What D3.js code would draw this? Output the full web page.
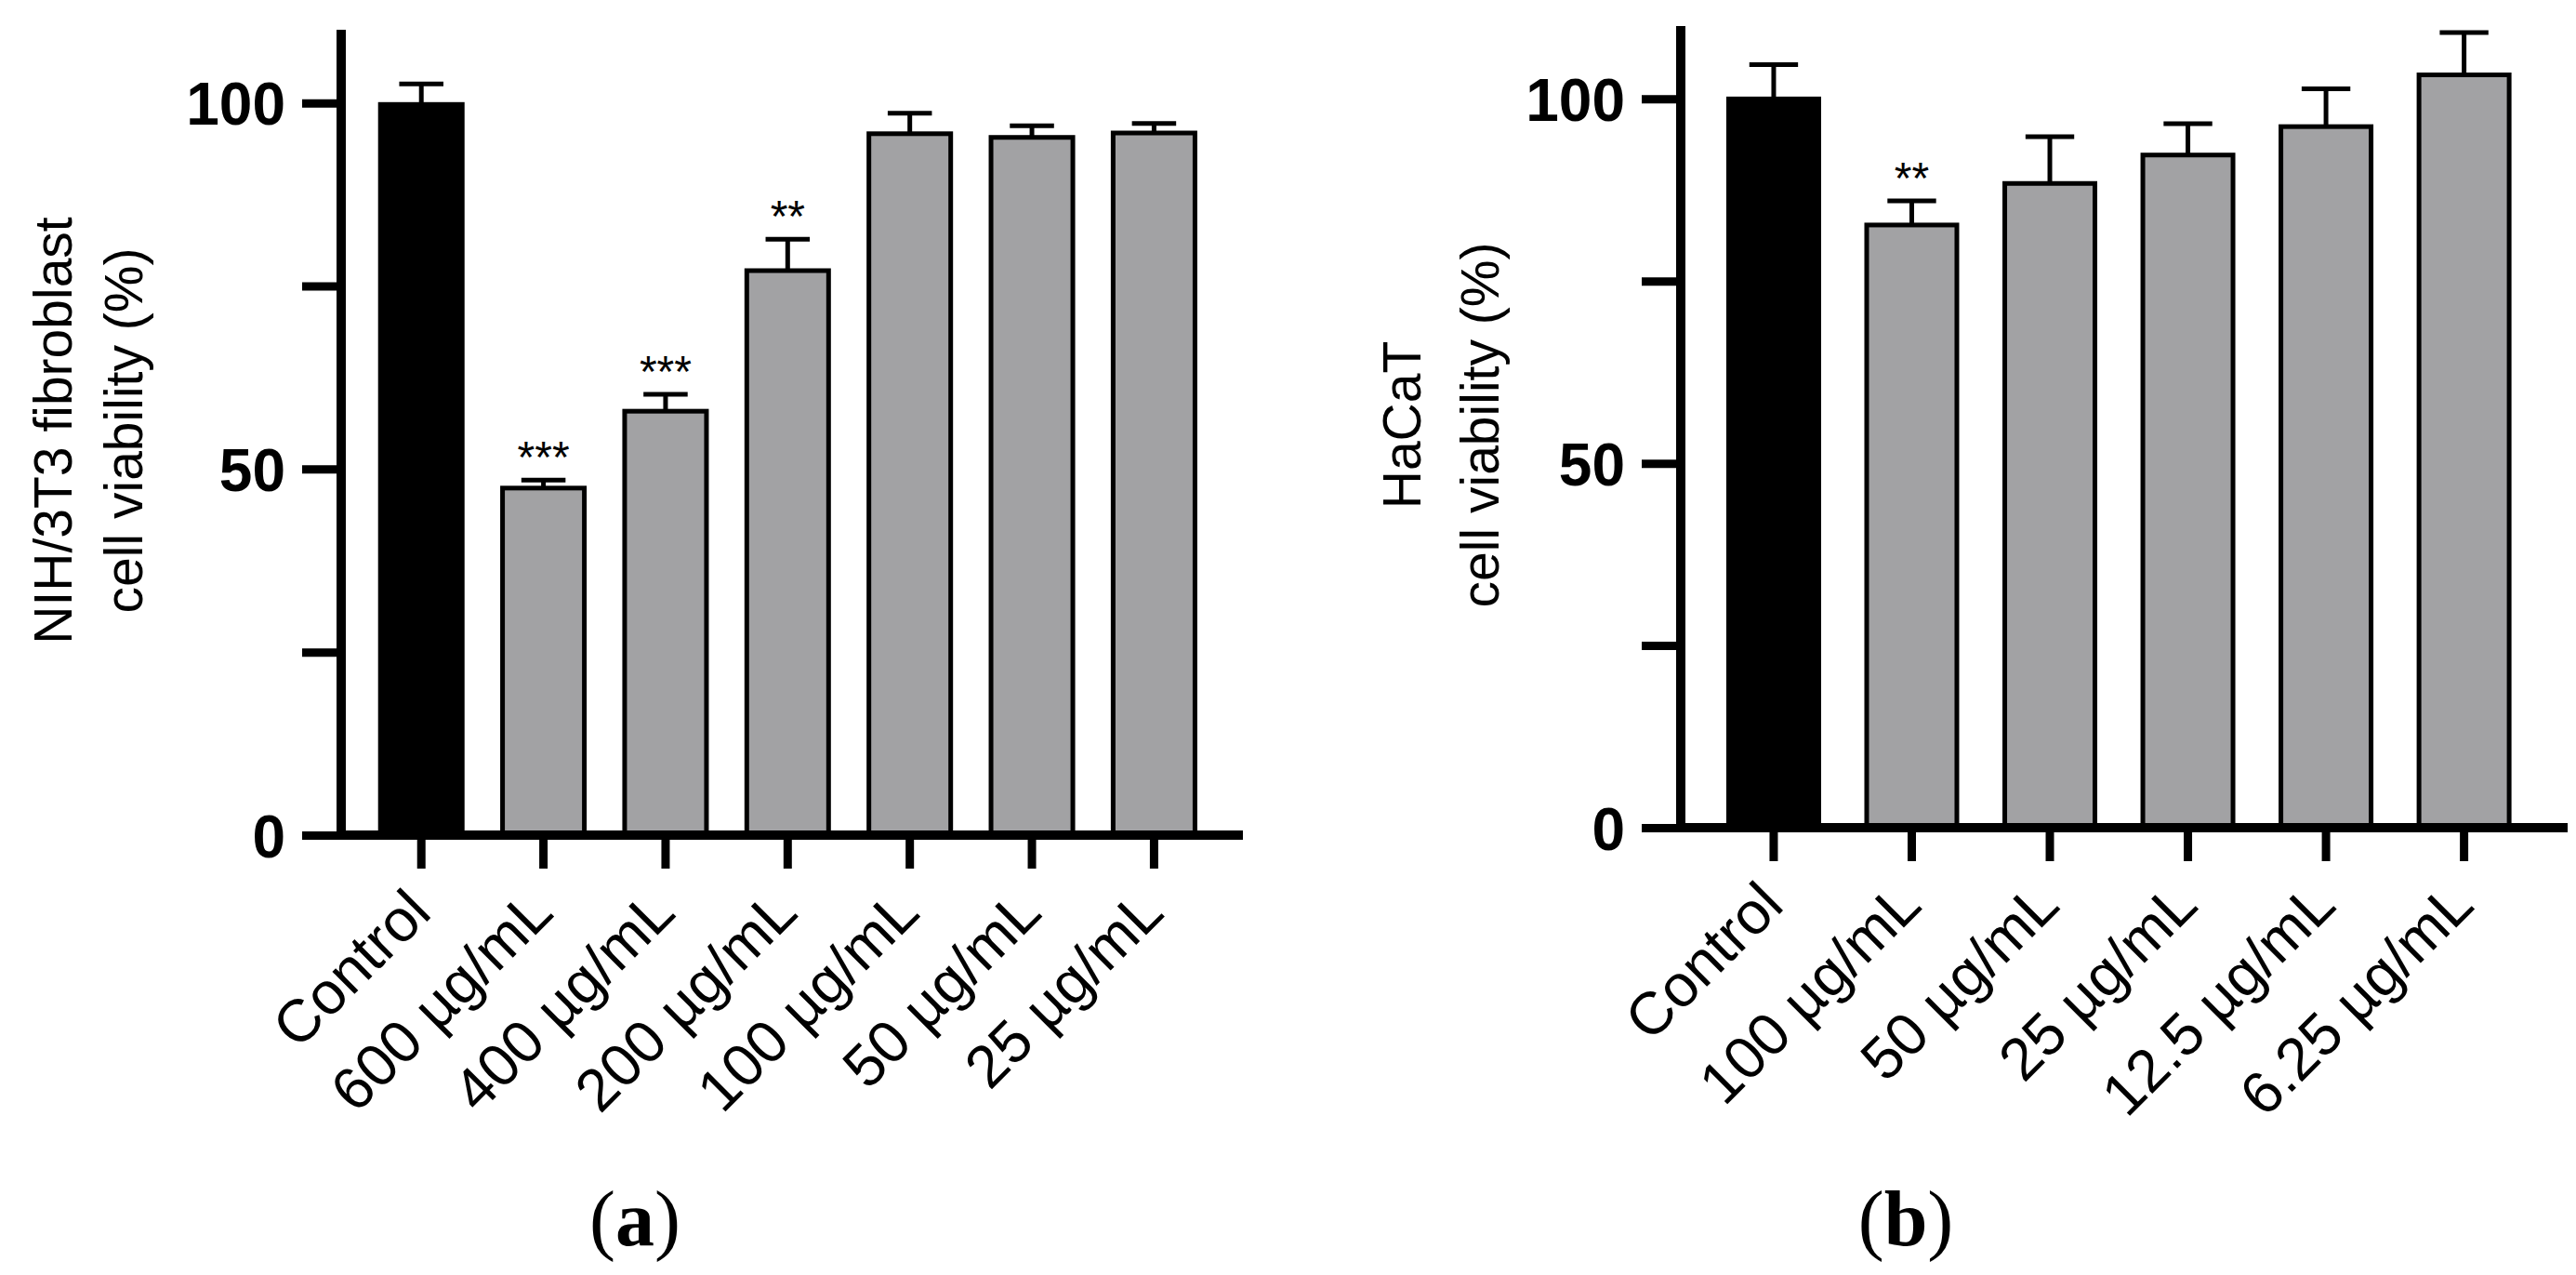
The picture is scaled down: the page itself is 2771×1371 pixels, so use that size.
<!DOCTYPE html>
<html>
<head>
<meta charset="utf-8">
<script src="https://d3js.org/d3.v7.min.js"></script>
<style>
	body { margin: 0; background: #fff; }
	svg { display: block; }
</style>
</head>
<body>
<div id="chart"></div>
<script>
// panel (a): NIH/3T3 fibroblasts
var catsA = ["Control", "600 µg/mL", "400 µg/mL", "200 µg/mL", "100 µg/mL", "50 µg/mL", "25 µg/mL"]
var meanA = [99.8, 47.4, 57.9, 77.1, 95.8, 95.3, 95.9]
var errA = [2.8, 1.1, 2.3, 4.3, 2.8, 1.6, 1.3]
var sigA = ["", "***", "***", "**", "", "", ""]

// panel (b): HaCaT
var catsB = ["Control", "100 µg/mL", "50 µg/mL", "25 µg/mL", "12.5 µg/mL", "6.25 µg/mL"]
var meanB = [100.0, 82.7, 88.4, 92.3, 96.2, 103.3]
var errB = [4.7, 3.3, 6.4, 4.3, 5.2, 5.8]
var sigB = ["", "**", "", "", "", ""]

var yTicks = [0, 25, 50, 75, 100]
var yLabels = [0, 50, 100]

var W = 2771, H = 1371
var svg = d3.select("#chart").append("svg")
	.attr("width", W)
	.attr("height", H)

svg.append("rect").attr("width", W).attr("height", H).attr("fill", "#fff")

function drawPanel(p){
	var g = svg.append("g")

	var y = d3.scaleLinear().domain([0, 110]).range([p.bottom, p.top])
	var x = d3.scaleBand()
		.domain(p.cats)
		.range([p.left, p.right])
		.paddingInner(p.padIn)
		.paddingOuter(p.padOut)
		.align(0.45)

	var rows = p.cats.map(function(c, i){
		return { cat: c, mean: p.mean[i], err: p.err[i], sig: p.sig[i], first: i == 0 }
	})

	// bars
	g.selectAll(".bar")
		.data(rows)
		.enter()
		.append("rect")
		.attr("class", "bar")
		.attr("x", function(d){ return x(d.cat) })
		.attr("y", function(d){ return y(d.mean) })
		.attr("width", x.bandwidth())
		.attr("height", function(d){ return y(0) - y(d.mean) })
		.style("fill", function(d){ return d.first ? "#000" : "#a2a2a4" })
		.style("stroke", "#000")
		.style("stroke-width", 5)

	// error bars, upper only
	var capW = x.bandwidth() * 0.54
	var eb = g.selectAll(".err")
		.data(rows)
		.enter()
		.append("g")
		.attr("class", "err")
		.style("stroke", "#000")
		.style("stroke-width", 5)
	eb.append("line")
		.attr("x1", function(d){ return x(d.cat) + x.bandwidth() / 2 })
		.attr("x2", function(d){ return x(d.cat) + x.bandwidth() / 2 })
		.attr("y1", function(d){ return y(d.mean) })
		.attr("y2", function(d){ return y(d.mean + d.err) })
	eb.append("line")
		.attr("x1", function(d){ return x(d.cat) + x.bandwidth() / 2 - capW / 2 })
		.attr("x2", function(d){ return x(d.cat) + x.bandwidth() / 2 + capW / 2 })
		.attr("y1", function(d){ return y(d.mean + d.err) })
		.attr("y2", function(d){ return y(d.mean + d.err) })

	// significance stars
	g.selectAll(".sig")
		.data(rows.filter(function(d){ return d.sig != "" }))
		.enter()
		.append("text")
		.attr("class", "sig")
		.attr("x", function(d){ return x(d.cat) + x.bandwidth() / 2 })
		.attr("y", function(d){ return y(d.mean + d.err) - 8 })
		.attr("text-anchor", "middle")
		.style("font-family", "'Liberation Sans', Arial, sans-serif")
		.style("font-size", "48px")
		.text(function(d){ return d.sig })

	// y axis
	var yAxis = g.append("g")
		.attr("transform", "translate(" + p.left + ",0)")
		.call(d3.axisLeft(y)
			.tickValues(yTicks)
			.tickSize(42)
			.tickPadding(18)
			.tickFormat(function(d){ return yLabels.indexOf(d) >= 0 ? d : "" }))
	yAxis.select(".domain").remove()
	yAxis.append("line")
		.attr("x1", 0).attr("x2", 0)
		.attr("y1", p.top).attr("y2", p.bottom + 5)
		.style("stroke", "#000").style("stroke-width", 10)
	yAxis.selectAll(".tick line").style("stroke", "#000").style("stroke-width", 9)
	yAxis.selectAll(".tick text")
		.style("font-family", "'Liberation Sans', Arial, sans-serif")
		.style("font-weight", "bold")
		.style("font-size", "64px")
		.attr("dy", "0.36em")
		.style("fill", "#000")

	// x axis
	var xAxis = g.append("g")
		.attr("transform", "translate(0," + p.bottom + ")")
		.call(d3.axisBottom(x).tickSize(36).tickPadding(0))
	xAxis.select(".domain").remove()
	xAxis.append("line")
		.attr("x1", p.left - 5).attr("x2", p.right)
		.attr("y1", 0).attr("y2", 0)
		.style("stroke", "#000").style("stroke-width", 10)
	xAxis.selectAll(".tick line").style("stroke", "#000").style("stroke-width", 9)
	xAxis.selectAll(".tick text")
		.attr("y", null)
		.attr("dy", null)
		.attr("text-anchor", "end")
		.attr("transform", "translate(13,86) rotate(-45)")
		.style("font-family", "'Liberation Sans', Arial, sans-serif")
		.style("font-size", "64px")
		.style("fill", "#000")

	// y title, two lines
	var mid = (p.top + p.bottom) / 2 - 2
	p.title.forEach(function(t, i){
		g.append("text")
			.attr("transform", "translate(" + p.titleX[i] + "," + mid + ") rotate(-90)")
			.attr("text-anchor", "middle")
			.style("font-family", "'Liberation Sans', Arial, sans-serif")
			.style("font-size", "57px")
			.text(t)
	})

	// panel letter
	var cap = svg.append("text")
		.attr("x", p.capX)
		.attr("y", 1339)
		.attr("text-anchor", "middle")
		.style("font-family", "'Liberation Serif', 'Times New Roman', serif")
		.style("font-size", "84px")
	cap.append("tspan").text("(")
	cap.append("tspan").style("font-weight", "bold").text(p.letter)
	cap.append("tspan").text(")")
}

drawPanel({
	cats: catsA, mean: meanA, err: errA, sig: sigA,
	left: 367, right: 1337, top: 32, bottom: 898,
	padIn: 0.33, padOut: 0.357,
	title: ["NIH/3T3 fibroblast", "cell viability (%)"],
	titleX: [77, 153],
	letter: "a", capX: 683
})

drawPanel({
	cats: catsB, mean: meanB, err: errB, sig: sigB,
	left: 1808, right: 2762, top: 28, bottom: 890,
	padIn: 0.347, padOut: 0.385,
	title: ["HaCaT", "cell viability (%)"],
	titleX: [1528, 1612],
	letter: "b", capX: 2050
})
</script>
</body>
</html>
